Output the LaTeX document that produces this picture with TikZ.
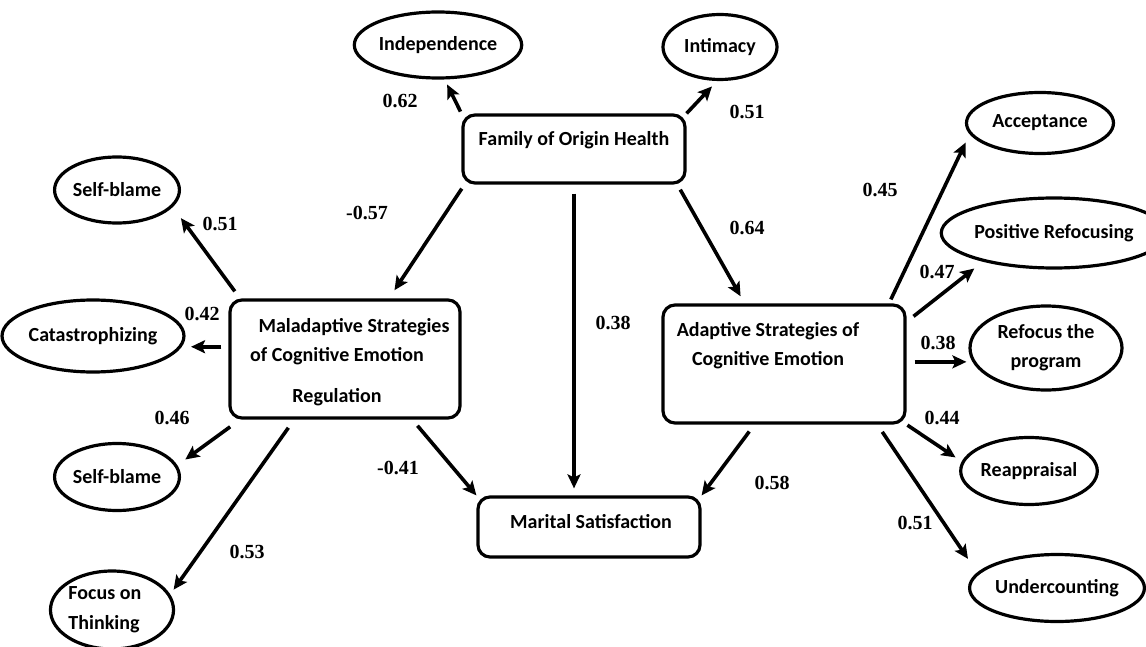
\documentclass[tikz,border=0pt]{standalone}
\usepackage{fontspec}
\setmainfont{Carlito}
\newfontfamily\coeffont{Liberation Serif}
\usetikzlibrary{arrows.meta,shapes.geometric}

\tikzset{
  latent/.style={draw, ellipse, line width=1.6pt, inner sep=0pt, align=center,
    font=\bfseries\fontsize{10}{12}\selectfont},
  factor/.style={draw, rounded corners=6pt, line width=1.6pt, inner sep=0pt},
  boxtext/.style={inner sep=0pt, align=center, font=\bfseries\fontsize{10}{12}\selectfont},
  coef/.style={inner sep=0pt, font=\coeffont\bfseries\fontsize{10}{12}\selectfont},
  effect/.style={line width=1.8pt, -{Stealth[length=7pt,width=6.5pt,inset=1.5pt]}},
}

\begin{document}
\begin{tikzpicture}[x=0.5pt,y=0.5pt,yscale=-1]
\useasboundingbox (0,0) rectangle (1146,647);

%Shape: Rounded Rect
\node[factor, minimum width=111pt, minimum height=34pt] (foh) at (574,149) {};
\node[factor, minimum width=115pt, minimum height=59pt] (mal) at (345,359) {};
\node[factor, minimum width=121pt, minimum height=59pt] (ada) at (784,364) {};
\node[factor, minimum width=111pt, minimum height=30pt] (mar) at (589,527) {};

% Text Node
\node[boxtext] (fohtxt) at (574,140) {Family of Origin Health};
\node[boxtext] (maltxta) at (354,327) {Maladaptive Strategies};
\node[boxtext] (maltxtb) at (337,356) {of Cognitive Emotion};
\node[boxtext] (maltxtc) at (337,397) {Regulation};
\node[boxtext] (adatxt) at (768,346) {Adaptive Strategies of\\[2.5pt]Cognitive Emotion};
\node[boxtext] (martxt) at (591,522) {Marital Satisfaction};

%Shape: Ellipse
\node[latent, minimum width=80.5pt, minimum height=33pt] (indep) at (438,45) {Independence};
\node[latent, minimum width=57pt, minimum height=32.5pt] (intim) at (720,47) {\raisebox{-4.5pt}{Intimacy}};
\node[latent, minimum width=59pt, minimum height=33pt] (sbtop) at (117,190) {Self-blame};
\node[latent, minimum width=81.5pt, minimum height=36pt] (cat) at (93,336) {Catastrophizing};
\node[latent, minimum width=58.5pt, minimum height=33.5pt] (sbbot) at (117,477) {Self-blame};
\node[latent, minimum width=59.5pt, minimum height=39pt, align=left] (focus) at (112,610) {Focus on\\[3pt]Thinking\hspace*{8pt}};
\node[latent, minimum width=73.5pt, minimum height=30.5pt] (acc) at (1040,123) {Acceptance};
\node[latent, minimum width=91.5pt, minimum height=35pt] (posref) at (1054,233) {Positive Refocusing};
\node[latent, minimum width=76pt, minimum height=42pt] (refprog) at (1046,348) {Refocus the\\[2.5pt]program};
\node[latent, minimum width=58pt, minimum height=33.5pt] (reap) at (1029,471) {Reappraisal};
\node[latent, minimum width=75pt, minimum height=33.5pt] (under) at (1057,588) {Undercounting};

%Straight Lines
\draw[effect, shorten <=1pt, shorten >=2.8pt] (foh.north west) -- (indep.-79);
\draw[effect, shorten >=3.7pt] (foh.north east) -- (intim.-95);
\draw[effect, shorten <=2.4pt, shorten >=4.9pt] (foh.-162.2) -- (mal.54.9);
\draw[effect, shorten <=4.5pt, shorten >=3.5pt] (foh.south) -- (foh.south |- mar.north);
\draw[effect, shorten <=2.9pt, shorten >=4.1pt] (foh.-19.1) -- (ada.123.3);

\draw[effect, shorten <=4.4pt, shorten >=6.9pt] (mal.150.1) -- (sbtop.-17.5);
\draw[effect, shorten <=3.5pt, shorten >=2.75pt] (mal.174.5) -- (mal.174.5 -| cat.east);
\draw[effect, shorten <=6.1pt, shorten >=4.9pt] (mal.-150.7) -- (sbbot.11.7);
\draw[effect, shorten <=5pt, shorten >=2.9pt] (mal.-130.4) -- (focus.15.7);
\draw[effect, shorten <=4pt] (mal.-42.4) -- (mar.north west);

\draw[effect, shorten <=4.3pt] (ada.-116.2) -- (mar.north east);
\draw[effect, shorten <=2.2pt, shorten >=4.7pt] (ada.30) -- (acc.-171.2);
\draw[effect, shorten <=4.4pt, shorten >=5.5pt] (ada.19.1) -- (posref.-158.1);
\draw[effect, shorten <=4pt, shorten >=1pt] (ada.1) -- (ada.1 -| refprog.west);
\draw[effect, shorten <=0.5pt, shorten >=3.7pt] (ada.south east) -- (reap.172.7);
\draw[effect, shorten <=4.4pt, shorten >=8.2pt] (ada.-33.6) -- (under.169.4);

% Text Node
\node[coef] (cind) at (400,101) {0.62};
\node[coef] (cint) at (747,112) {0.51};
\node[coef] (cmal) at (367,213) {-0.57};
\node[coef] (cmar) at (613,323) {0.38};
\node[coef] (cada) at (747,228) {0.64};
\node[coef] (csbt) at (220,224) {0.51};
\node[coef] (ccat) at (202,314) {0.42};
\node[coef] (csbb) at (172,418) {0.46};
\node[coef] (cfoc) at (247,552) {0.53};
\node[coef] (cmm) at (398,468) {-0.41};
\node[coef] (cam) at (772,483) {0.58};
\node[coef] (cacc) at (880,190) {0.45};
\node[coef] (cpos) at (937,272) {0.47};
\node[coef] (cref) at (938,343) {0.38};
\node[coef] (crea) at (942,418) {0.44};
\node[coef] (cund) at (915,523) {0.51};

\end{tikzpicture}
\end{document}
